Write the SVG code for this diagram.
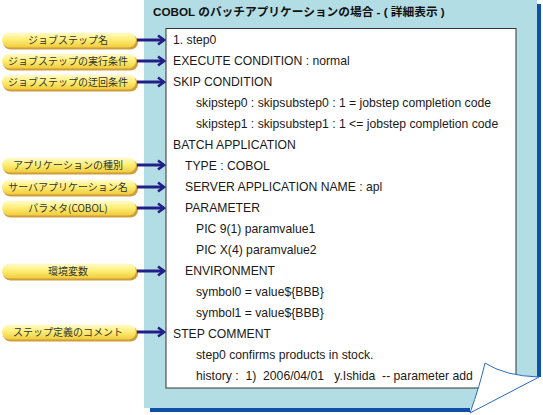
<svg xmlns="http://www.w3.org/2000/svg" width="543" height="415" viewBox="0 0 543 415">
<defs>
<linearGradient id="pillGrad" x1="0" y1="0" x2="0" y2="1">
<stop offset="0" stop-color="#fffbd2"/>
<stop offset="0.45" stop-color="#fff07a"/>
<stop offset="1" stop-color="#f0cc3c"/>
</linearGradient>
<marker id="arrow" viewBox="0 0 10 12" refX="8" refY="6" markerWidth="10" markerHeight="12" markerUnits="userSpaceOnUse" orient="auto">
<path d="M2,1.5 L8,6 L2,10.5" fill="none" stroke="#221f87" stroke-width="2.6" stroke-linejoin="miter"/>
</marker>
</defs>
<style>
.pill-shadow{fill:#cf9d3a}
.pill{fill:url(#pillGrad)}
.lbl{font-family:"Noto Sans CJK JP","Liberation Sans",sans-serif;font-size:10px;fill:#333;text-anchor:middle}
.body{font-family:"Liberation Sans","Noto Sans CJK JP",sans-serif;font-size:12.2px;fill:#1a1a1a}
.title{font-family:"Liberation Sans","Noto Sans CJK JP",sans-serif;font-size:11.7px;font-weight:bold;fill:#111}
.conn{stroke:#221f87;stroke-width:3;fill:none;marker-end:url(#arrow)}
</style>

<g id="panel">
<rect x="144" y="0" width="393" height="408" fill="#b3dde4"/>
<rect x="537" y="4" width="4" height="373" fill="#0f51a8"/>
<rect x="150" y="408" width="320" height="4" fill="#0f51a8"/>
<text class="title" x="153" y="16">COBOL のバッチアプリケーションの場合 - ( 詳細表示 )</text>
</g>

<g id="sheet">
<rect x="166" y="28.5" width="350" height="359.5" fill="#fff" stroke="#333" stroke-width="1"/>
<text class="body" x="173" y="44">1. step0</text>
<text class="body" x="173" y="65">EXECUTE CONDITION : normal</text>
<text class="body" x="173" y="86">SKIP CONDITION</text>
<text class="body" x="196" y="107">skipstep0 : skipsubstep0 : 1 = jobstep completion code</text>
<text class="body" x="196" y="128">skipstep1 : skipsubstep1 : 1 &lt;= jobstep completion code</text>
<text class="body" x="173" y="149">BATCH APPLICATION</text>
<text class="body" x="185" y="170">TYPE : COBOL</text>
<text class="body" x="185" y="191">SERVER APPLICATION NAME : apl</text>
<text class="body" x="185" y="212">PARAMETER</text>
<text class="body" x="196" y="233">PIC 9(1) paramvalue1</text>
<text class="body" x="196" y="254">PIC X(4) paramvalue2</text>
<text class="body" x="185" y="275">ENVIRONMENT</text>
<text class="body" x="196" y="296">symbol0 = value${BBB}</text>
<text class="body" x="196" y="317">symbol1 = value${BBB}</text>
<text class="body" x="173" y="338">STEP COMMENT</text>
<text class="body" x="196" y="359">step0 confirms products in stock.</text>
<text class="body" x="196" y="380" xml:space="preserve">history :  1)  2006/04/01   y.Ishida  -- parameter add</text>
</g>

<g id="curl">
<polygon points="539,377 543,377 543,415 462,415 470,413" fill="#fff"/>
<path d="M485,363 Q505,376 539,377 L470,413 Q480,385 485,363 Z" fill="#fff" stroke="#2a6cc0" stroke-width="1" stroke-linejoin="round"/>
</g>

<g id="label-jobstep-name">
<rect class="pill-shadow" x="3" y="34.5" width="135" height="15" rx="7.5"/>
<rect class="pill" x="2" y="32.5" width="134" height="15" rx="7.5"/>
<text class="lbl" x="68" y="44">ジョブステップ名</text>
</g>
<g id="label-exec-cond">
<rect class="pill-shadow" x="3" y="55.5" width="135" height="15" rx="7.5"/>
<rect class="pill" x="2" y="53.5" width="134" height="15" rx="7.5"/>
<text class="lbl" x="68" y="65">ジョブステップの実行条件</text>
</g>
<g id="label-skip-cond">
<rect class="pill-shadow" x="3" y="76.5" width="135" height="15" rx="7.5"/>
<rect class="pill" x="2" y="74.5" width="134" height="15" rx="7.5"/>
<text class="lbl" x="68" y="86">ジョブステップの迂回条件</text>
</g>
<g id="label-app-type">
<rect class="pill-shadow" x="3" y="159.5" width="135" height="15" rx="7.5"/>
<rect class="pill" x="2" y="157.5" width="134" height="15" rx="7.5"/>
<text class="lbl" x="68" y="169">アプリケーションの種別</text>
</g>
<g id="label-server-app">
<rect class="pill-shadow" x="3" y="181.5" width="135" height="15" rx="7.5"/>
<rect class="pill" x="2" y="179.5" width="134" height="15" rx="7.5"/>
<text class="lbl" x="68" y="191">サーバアプリケーション名</text>
</g>
<g id="label-param">
<rect class="pill-shadow" x="3" y="202.5" width="135" height="15" rx="7.5"/>
<rect class="pill" x="2" y="200.5" width="134" height="15" rx="7.5"/>
<text class="lbl" x="68" y="212">パラメタ(COBOL)</text>
</g>
<g id="label-env">
<rect class="pill-shadow" x="3" y="265.5" width="135" height="15" rx="7.5"/>
<rect class="pill" x="2" y="263.5" width="134" height="15" rx="7.5"/>
<text class="lbl" x="68" y="275">環境変数</text>
</g>
<g id="label-comment">
<rect class="pill-shadow" x="3" y="326.5" width="135" height="15" rx="7.5"/>
<rect class="pill" x="2" y="324.5" width="134" height="15" rx="7.5"/>
<text class="lbl" x="68" y="336">ステップ定義のコメント</text>
</g>

<g id="connectors">
<path class="conn" d="M137,40 H164"/>
<path class="conn" d="M137,61 H164"/>
<path class="conn" d="M137,82 H164"/>
<path class="conn" d="M137,165 H164"/>
<path class="conn" d="M137,187 H164"/>
<path class="conn" d="M137,208 H164"/>
<path class="conn" d="M137,271 H164"/>
<path class="conn" d="M137,332 H164"/>
</g>
</svg>
